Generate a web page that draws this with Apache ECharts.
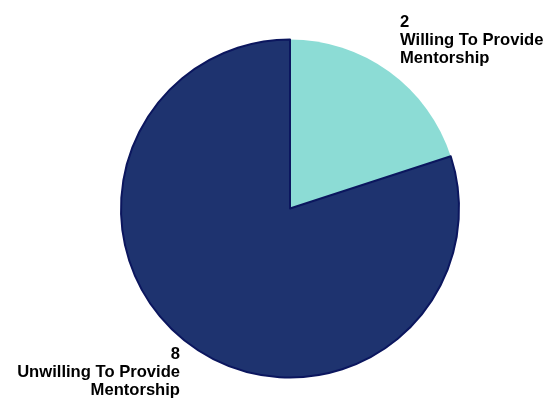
<!DOCTYPE html>
<html>
<head>
<meta charset="utf-8">
<script src="https://cdn.jsdelivr.net/npm/echarts@6/dist/echarts.min.js"></script>
<style>
  html, body { margin: 0; padding: 0; background: #ffffff; }
  #chart { width: 549px; height: 403px; }
</style>
</head>
<body>
<div id="chart"></div>
<script>
// Mentorship willingness counts
const categories = ['Willing To Provide\nMentorship', 'Unwilling To Provide\nMentorship'];
const counts = [2, 8];
const sliceColors = ['#8cdcd5', '#1e336f'];
const sliceBorders = ['#8cdcd5', '#0b165e'];

const chart = echarts.init(document.getElementById('chart'), null, { renderer: 'canvas' });

const labelSpots = [
  { x: 400, y: 13, align: 'left' },
  { x: 180, y: 345, align: 'right' }
];

chart.setOption({
  animation: false,
  series: [{
    type: 'pie',
    center: [290, 208.5],
    radius: 169,
    startAngle: 90,
    clockwise: true,
    data: categories.map((name, i) => ({
      name,
      value: counts[i],
      itemStyle: {
        color: sliceColors[i],
        borderColor: sliceBorders[i],
        borderWidth: i === 1 ? 2 : 0
      }
    })),
    label: {
      show: true,
      position: 'outside',
      formatter: p => p.value + '\n' + p.name,
      fontFamily: 'Liberation Sans, Arial, sans-serif',
      fontWeight: 'bold',
      fontSize: 16.6,
      lineHeight: 18,
      color: '#000000',
      overflow: 'none',
      width: 300
    },
    labelLine: { show: false },
    labelLayout: params => {
      const s = labelSpots[params.dataIndex];
      return { x: s.x, y: s.y, align: s.align, verticalAlign: 'top' };
    },
    emphasis: { disabled: true }
  }]
});
</script>
</body>
</html>
